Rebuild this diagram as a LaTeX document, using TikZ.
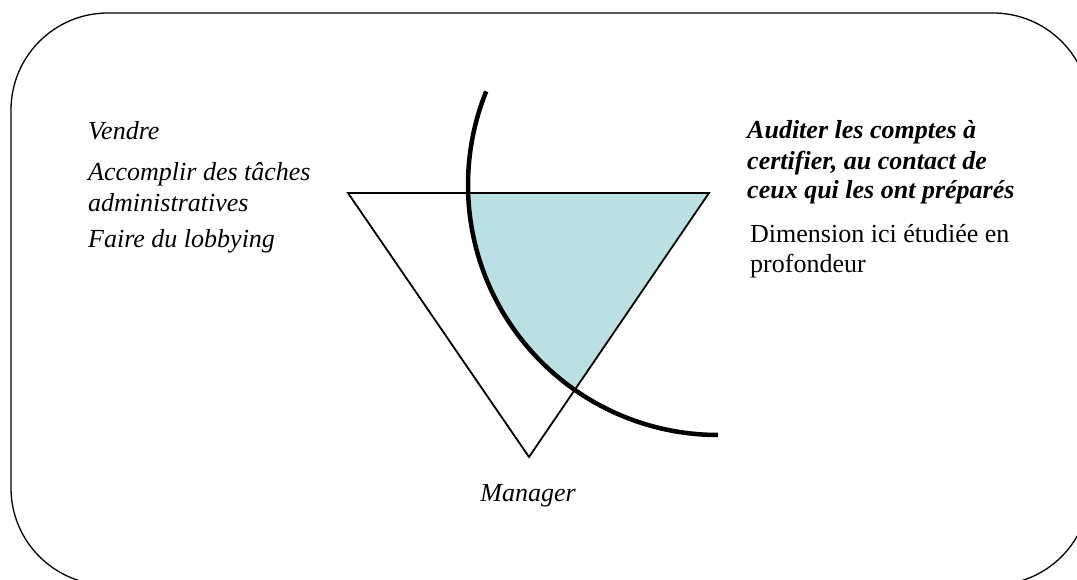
\documentclass[tikz,border=0pt]{standalone}
\usepackage{fontspec}
\setmainfont{Liberation Serif}
\usepackage{tikz}
\usetikzlibrary{calc, positioning}
\definecolor{zonefill}{RGB}{187,224,227}
\tikzset{
    txt/.style = {inner sep=0pt, anchor=base west, align=left, font=\fontsize{26}{30.5}\selectfont},
    role/.style = {txt, font=\fontsize{26}{30.5}\selectfont\itshape},
    focus/.style = {txt, font=\fontsize{26}{30}\selectfont\bfseries\itshape},
    frame/.style = {draw, line width=1.3pt, rounded corners=97pt}
}
\begin{document}
\begin{tikzpicture}[x=1pt, y=1pt]
    \useasboundingbox (0,0) rectangle (1077,580);
    % cadre
    \draw[frame] (11,-5) rectangle (1090,567);
    % triangle et arc
    \coordinate (tl) at (348,387);
    \coordinate (tr) at (709,387);
    \coordinate (bot) at (529,123);
    \coordinate (c) at (718,395);
    \begin{scope}
        \clip (c) circle (250);
        \fill[zonefill] (tl) -- (tr) -- (bot) -- cycle;
    \end{scope}
    \draw[line width=1.8pt, line join=miter] (tl) -- (tr) -- (bot) -- cycle;
    \draw[line width=4.5pt] ($(c)+(158:250)$) arc (158:270:250);
    % textes
    \node[role] (vendre) at (88,440) {Vendre};
    \node[role] (taches) at (88,399) {Accomplir des t\^aches};
    \node[role] (admin) at (88,368) {administratives};
    \node[role] (lobby) at (88,332) {Faire du lobbying};
    \node[focus] (audit1) at (747,441) {Auditer les comptes \`a};
    \node[focus] (audit2) at (747,410) {certifier, au contact de};
    \node[focus] (audit3) at (747,381) {ceux qui les ont pr\'epar\'es};
    \node[txt] (dim1) at (750,337) {Dimension ici \'etudi\'ee en};
    \node[txt] (dim2) at (750,307) {profondeur};
    \node[role, anchor=base] (manager) at (528,78) {Manager};
\end{tikzpicture}
\end{document}
